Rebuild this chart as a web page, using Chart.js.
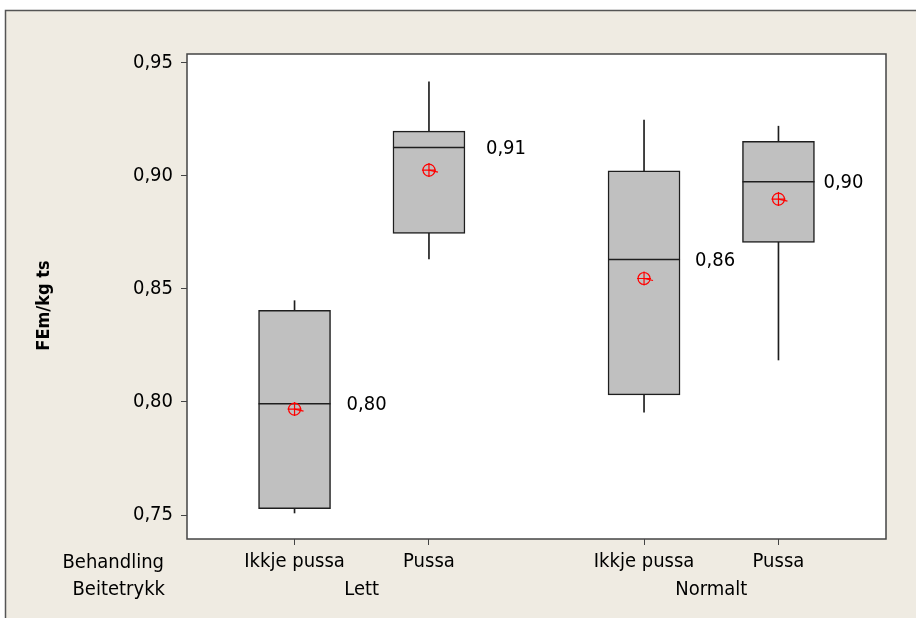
<!DOCTYPE html>
<html>
<head>
<meta charset="utf-8">
<script src="https://cdn.jsdelivr.net/npm/chart.js@4.4.1/dist/chart.umd.min.js"></script>
<style>
  html, body { margin: 0; padding: 0; background: #ffffff; }
  canvas { display: block; }
</style>
</head>
<body>
<canvas id="c" width="916" height="618"></canvas>
<script>
// Categories
const behandling = ['Ikkje pussa', 'Pussa', 'Ikkje pussa', 'Pussa'];
const beitetrykk = ['Lett', 'Normalt'];
const groupOf = [0, 0, 1, 1];
// Box positions on the x axis (gap between the two Beitetrykk groups)
const xPos = [1, 2, 3.6, 4.6];

// FEm/kg ts summaries per box
const whiskerLow  = [0.7509, 0.8632, 0.7954, 0.8185];
const q1          = [0.7528, 0.8744, 0.8031, 0.8704];
const median      = [0.7992, 0.9124, 0.8629, 0.8972];
const q3          = [0.8404, 0.9196, 0.9021, 0.9151];
const whiskerHigh = [0.8447, 0.9414, 0.9245, 0.9218];
const mean        = [0.7968, 0.9024, 0.8545, 0.8896];

// Axis ticks
const yTicks = [0.75, 0.80, 0.85, 0.90, 0.95];

const FONT = "'DejaVu Sans Condensed', 'DejaVu Sans', sans-serif";
const BOX_PX = 72;
const INK = '#1e1e1e';
const labelNudge = [16, 21, 15, 9]; // gap between box edge and its median label

const fmt = v => v.toFixed(2).replace('.', ',');

const decor = {
  id: 'decor',
  beforeDraw(chart) {
    const { ctx, chartArea: a, width, height } = chart;
    ctx.save();
    ctx.fillStyle = '#ffffff';
    ctx.fillRect(0, 0, width, height);
    ctx.fillStyle = '#efebe2';
    ctx.fillRect(5, 10, width, height);
    ctx.strokeStyle = '#555555';
    ctx.lineWidth = 1.5;
    ctx.beginPath();
    ctx.moveTo(5.5, height + 5);
    ctx.lineTo(5.5, 10.5);
    ctx.lineTo(width + 5, 10.5);
    ctx.stroke();
    ctx.fillStyle = '#ffffff';
    ctx.fillRect(a.left, a.top, a.right - a.left, a.bottom - a.top);
    ctx.restore();
  },
  afterDraw(chart) {
    const { ctx, chartArea: a, scales } = chart;
    const x = scales.x, y = scales.y;
    ctx.save();
    // plot frame
    ctx.strokeStyle = '#444444';
    ctx.lineWidth = 1.5;
    ctx.strokeRect(a.left, a.top, a.right - a.left, a.bottom - a.top);

    // small tail on each mean symbol
    ctx.strokeStyle = '#ff0000';
    ctx.lineWidth = 1.2;
    mean.forEach((m, i) => {
      const px = x.getPixelForValue(xPos[i]), py = y.getPixelForValue(m);
      ctx.beginPath();
      ctx.moveTo(px, py);
      ctx.lineTo(px + 9, py + 2);
      ctx.stroke();
    });

    // median value labels
    ctx.fillStyle = '#000000';
    ctx.font = '20px ' + FONT;
    ctx.textAlign = 'left';
    ctx.textBaseline = 'middle';
    median.forEach((m, i) => {
      const px = x.getPixelForValue(xPos[i]) + BOX_PX / 2 + labelNudge[i];
      ctx.fillText(fmt(m), px, y.getPixelForValue(m) + 1);
    });

    // second row of category labels
    ctx.textBaseline = 'alphabetic';
    ctx.textAlign = 'center';
    beitetrykk.forEach((g, gi) => {
      const members = xPos.filter((_, i) => groupOf[i] === gi);
      const mid = (members[0] + members[members.length - 1]) / 2;
      ctx.fillText(g, x.getPixelForValue(mid), a.bottom + 56);
    });
    ctx.textAlign = 'right';
    ctx.fillText('Behandling', a.left - 23, a.bottom + 29);
    ctx.fillText('Beitetrykk', a.left - 22, a.bottom + 56);

    // y axis title
    ctx.font = 'bold 18px ' + FONT;
    ctx.textAlign = 'center';
    ctx.textBaseline = 'middle';
    ctx.translate(44, (a.top + a.bottom) / 2 + 9);
    ctx.rotate(-Math.PI / 2);
    ctx.fillText('FEm/kg ts', 0, 0);
    ctx.restore();
  }
};

new Chart(document.getElementById('c'), {
  type: 'bar',
  data: {
    datasets: [
      {
        label: 'Box',
        order: 2,
        grouped: false,
        data: xPos.map((v, i) => ({ x: v, y: [q1[i], q3[i]] })),
        backgroundColor: '#c0c0c0',
        borderColor: INK,
        borderWidth: 1.5,
        borderSkipped: false,
        barThickness: BOX_PX
      },
      {
        label: 'Whisker',
        order: 3,
        grouped: false,
        data: xPos.map((v, i) => ({ x: v, y: [whiskerLow[i], whiskerHigh[i]] })),
        backgroundColor: INK,
        borderWidth: 0,
        barThickness: 1
      },
      {
        type: 'line',
        label: 'Median',
        order: 1,
        showLine: false,
        data: xPos.map((v, i) => ({ x: v, y: median[i] })),
        pointStyle: 'line',
        pointRadius: BOX_PX / 2,
        pointHoverRadius: BOX_PX / 2,
        pointBorderColor: INK,
        pointBorderWidth: 1.5
      },
      {
        type: 'line',
        label: 'Mean',
        order: 0,
        showLine: false,
        data: xPos.map((v, i) => ({ x: v, y: mean[i] })),
        pointStyle: 'circle',
        pointRadius: 6,
        pointBackgroundColor: 'rgba(0,0,0,0)',
        pointBorderColor: '#ff0000',
        pointBorderWidth: 1.2
      },
      {
        type: 'line',
        label: 'Mean cross',
        order: 0,
        showLine: false,
        data: xPos.map((v, i) => ({ x: v, y: mean[i] })),
        pointStyle: 'cross',
        pointRadius: 7,
        pointBorderColor: '#ff0000',
        pointBorderWidth: 1.2
      }
    ]
  },
  options: {
    responsive: false,
    animation: false,
    devicePixelRatio: 1,
    layout: { autoPadding: false, padding: { left: 0, top: 54, right: 30, bottom: 0 } },
    plugins: {
      legend: { display: false },
      tooltip: { enabled: false },
      title: { display: false }
    },
    scales: {
      x: {
        type: 'linear',
        min: 0.2,
        max: 5.4,
        offset: false,
        afterBuildTicks: s => { s.ticks = xPos.map(v => ({ value: v })); },
        afterFit: s => { s.height = 79; s.paddingLeft = 0; s.paddingRight = 0; },
        border: { display: false },
        grid: { offset: false, drawOnChartArea: false, drawTicks: true, tickLength: 6, color: '#444444', lineWidth: 1 },
        ticks: {
          autoSkip: false,
          maxRotation: 0,
          padding: 5,
          color: '#000000',
          font: { family: FONT, size: 20 },
          callback: v => behandling[xPos.indexOf(v)]
        }
      },
      y: {
        type: 'linear',
        min: 0.7394,
        max: 0.9537,
        afterBuildTicks: s => { s.ticks = yTicks.map(v => ({ value: v })); },
        afterFit: s => { s.width = 187; s.paddingTop = 0; s.paddingBottom = 0; },
        border: { display: false },
        grid: { drawOnChartArea: false, drawTicks: true, tickLength: 6, color: '#444444', lineWidth: 1 },
        ticks: {
          padding: 8,
          color: '#000000',
          font: { family: FONT, size: 20 },
          callback: v => fmt(v)
        }
      }
    }
  },
  plugins: [decor]
});
</script>
</body>
</html>
